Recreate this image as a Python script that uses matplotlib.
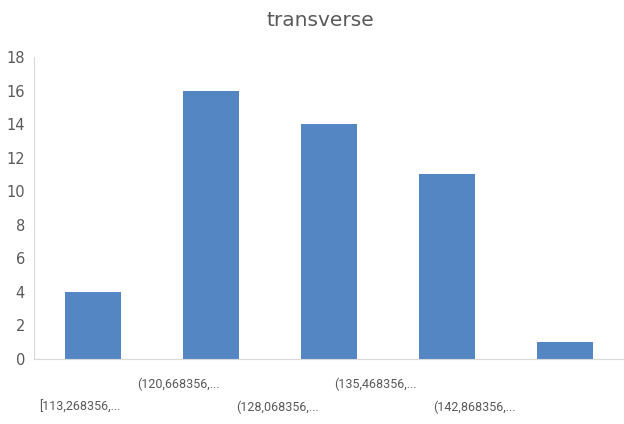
import matplotlib.pyplot as plt

bins = ["[113,268356,...", "(120,668356,...", "(128,068356,...",
        "(135,468356,...", "(142,868356,..."]
counts = [4, 16, 14, 11, 1]
yticks = [0, 2, 4, 6, 8, 10, 12, 14, 16, 18]

fig = plt.figure(figsize=(6.24, 4.24), dpi=100)
ax = fig.add_axes([34 / 624, 1 - 359 / 424, 590 / 624, (359 - 57) / 424])

x = range(len(counts))
ax.bar(x, counts, width=0.48, color="#5486C4")
ax.set_xlim(-0.5, 4.5)
ax.set_ylim(0, 18)
ax.set_yticks(yticks)
ax.set_xticks([])

for side in ["top", "right"]:
    ax.spines[side].set_visible(False)
for side in ["left", "bottom"]:
    ax.spines[side].set_color("#D9D9D9")
ax.tick_params(axis="y", length=0, pad=6.5, labelsize=10.5, labelcolor="#595959")

# staggered category labels, like Excel does when they don't fit
for i, lab in enumerate(bins):
    yoff = -48 if i % 2 == 0 else -25
    ax.annotate(lab, (i * 0.835 - 0.11, 0), xytext=(0, yoff), textcoords="offset pixels",
                ha="center", va="center", fontsize=9, color="#595959",
                family=["Roboto", "DejaVu Sans"], annotation_clip=False)

fig.text(0.513, 1 - 20 / 424, "transverse", ha="center", va="center",
         fontsize=14.5, color="#595959")

fig.savefig("out.png", dpi=100)
